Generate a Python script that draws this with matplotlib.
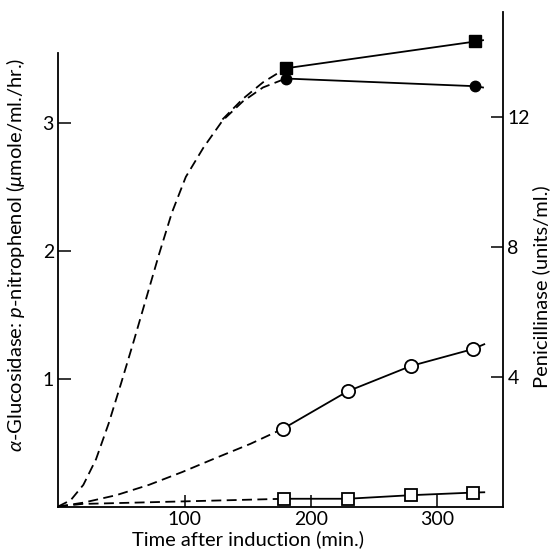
import matplotlib
matplotlib.use("Agg")
import matplotlib.pyplot as plt

plt.rcParams['font.family'] = ['Lato', 'DejaVu Sans']
plt.rcParams['mathtext.fontset'] = 'custom'
plt.rcParams['mathtext.rm'] = 'Lato'
plt.rcParams['mathtext.it'] = 'Lato:italic'

# alpha-glucosidase (left axis), filled symbols
gluc_sq_x = [180, 330]
gluc_sq_y = [3.43, 3.64]
gluc_ci_x = [180, 330]
gluc_ci_y = [3.35, 3.29]
gluc_line_end = [336, 3.65, 3.28]  # x, square line, circle line
# dashed lead-in curves
gluc_dash_x = [0, 10, 20, 30, 40, 50, 60, 70, 80, 90, 101, 115, 130, 146, 162, 180]
gluc_dash_y = [0, 0.05, 0.17, 0.37, 0.65, 0.97, 1.30, 1.64, 1.98, 2.30, 2.58, 2.81, 3.02, 3.17, 3.28, 3.35]
gluc_dash2_x = [130, 146, 162, 180]
gluc_dash2_y = [3.03, 3.19, 3.32, 3.43]

# penicillinase (right axis), open symbols
pen_ci_x = [178, 229, 279, 328]
pen_ci_y = [2.4, 3.55, 4.33, 4.85]
pen_sq_x = [179, 229, 279, 328]
pen_sq_y = [0.24, 0.24, 0.35, 0.43]
pen_line_end = [337, 5.0, 0.44]
pen_ci_dash_x = [0, 20, 46, 72, 98, 125, 152, 178]
pen_ci_dash_y = [0, 0.12, 0.35, 0.67, 1.06, 1.5, 1.93, 2.4]
pen_sq_dash_x = [0, 19, 60, 100, 140, 179]
pen_sq_dash_y = [0, 0.08, 0.12, 0.16, 0.2, 0.24]

fig = plt.figure(figsize=(5.53, 5.5), dpi=100)
ax = fig.add_axes([0.105, 0.079, 0.805, 0.899])
ax2 = ax.twinx()

dash = (0, (5.5, 3))
lw = 1.3

ax.plot(gluc_dash_x, gluc_dash_y, color='black', lw=lw, ls=dash)
ax.plot(gluc_dash2_x, gluc_dash2_y, color='black', lw=lw, ls=dash)
ax.plot(gluc_sq_x + [gluc_line_end[0]], gluc_sq_y + [gluc_line_end[1]], color='black', lw=lw)
ax.plot(gluc_ci_x + [gluc_line_end[0]], gluc_ci_y + [gluc_line_end[2]], color='black', lw=lw)
ax.plot(gluc_sq_x, gluc_sq_y, ls='none', marker='s', ms=8, color='black', zorder=5)
ax.plot(gluc_ci_x, gluc_ci_y, ls='none', marker='o', ms=7.5, color='black', zorder=5)

ax2.plot(pen_ci_dash_x, pen_ci_dash_y, color='black', lw=lw, ls=dash)
ax2.plot(pen_sq_dash_x, pen_sq_dash_y, color='black', lw=lw, ls=dash)
ax2.plot(pen_ci_x + [pen_line_end[0]], pen_ci_y + [pen_line_end[1]], color='black', lw=lw)
ax2.plot(pen_sq_x + [pen_line_end[0]], pen_sq_y + [pen_line_end[2]], color='black', lw=lw)
ax2.plot(pen_ci_x, pen_ci_y, ls='none', marker='o', ms=9.5, mfc='white', mec='black', mew=1.3, zorder=5)
ax2.plot(pen_sq_x, pen_sq_y, ls='none', marker='s', ms=8.5, mfc='white', mec='black', mew=1.3, zorder=5)

ax.set_xlim(0, 352)
ax.set_ylim(0, 3.87)
ax2.set_ylim(0, 15.23)

ax.set_xticks([100, 200, 300])
ax.set_yticks([1, 2, 3])
ax2.set_yticks([4, 8, 12])

for a in (ax, ax2):
    a.spines['top'].set_visible(False)
    a.tick_params(direction='in', length=9, width=1.1, labelsize=14, pad=3)
ax.spines['right'].set_visible(False)
ax.spines['left'].set_bounds(0, 3.55)
ax.spines['left'].set_linewidth(1.3)
ax.spines['bottom'].set_linewidth(1.3)
ax2.spines['right'].set_linewidth(1.3)
ax2.spines['left'].set_visible(False)
ax2.spines['bottom'].set_visible(False)

ax.set_xlabel('Time after induction (min.)', fontsize=14.5)
ax.set_ylabel(r'$\it{\alpha}$-Glucosidase: $\it{p}$-nitrophenol ($\it{\mu}$mole/ml./hr.)', fontsize=14.5)
ax2.set_ylabel('Penicillinase (units/ml.)', fontsize=14.5)
ax.xaxis.set_label_coords(0.427, -0.048)
ax.yaxis.set_label_coords(-0.07, 0.51)
ax2.yaxis.set_label_coords(1.065, 0.444)

fig.savefig('out.png', dpi=100)
